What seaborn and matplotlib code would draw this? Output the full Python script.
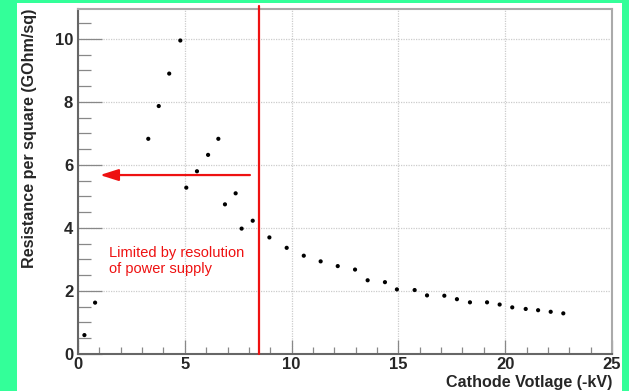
import matplotlib
matplotlib.use("Agg")
import matplotlib.pyplot as plt
from matplotlib.patches import Rectangle
from matplotlib.ticker import MultipleLocator
import seaborn as sns
import pandas as pd

# ---- data ----
voltage = [0.3, 0.8, 3.29, 3.78, 4.27, 4.79, 5.07, 5.57, 6.09, 6.57, 6.88, 7.38,
           7.66, 8.18, 8.96, 9.77, 10.57, 11.36, 12.16, 12.97, 13.56, 14.37,
           14.93, 15.76, 16.34, 17.15, 17.74, 18.35, 19.15, 19.74, 20.33, 20.96,
           21.54, 22.13, 22.72]
resistance = [0.6, 1.63, 6.83, 7.87, 8.9, 9.95, 5.28, 5.8, 6.32, 6.83, 4.75, 5.1,
              3.98, 4.23, 3.7, 3.37, 3.12, 2.94, 2.79, 2.68, 2.34, 2.28,
              2.05, 2.03, 1.86, 1.85, 1.74, 1.64, 1.64, 1.57, 1.48, 1.43,
              1.39, 1.34, 1.29]
x_ticks = [0, 5, 10, 15, 20, 25]
y_ticks = [0, 2, 4, 6, 8, 10]
limit_voltage = 8.47
arrow_start = 8.05
arrow_end = 1.03
arrow_level = 5.68
annotation = "Limited by resolution\nof power supply"
x_title = "Cathode Votlage (-kV)"
y_title = "Resistance per square (GOhm/sq)"

df = pd.DataFrame({"voltage": voltage, "resistance": resistance})

sns.set_style("white")
plt.rcParams["font.family"] = ["Liberation Sans", "DejaVu Sans"]

fig = plt.figure(figsize=(6.29, 3.91), dpi=100)
fig.patch.set_facecolor("#33ff99")
fig.patches.append(Rectangle((17 / 629, 0), (622 - 17) / 629, (391 - 3) / 391,
                             transform=fig.transFigure, facecolor="white",
                             edgecolor="none", zorder=-10))

ax = fig.add_axes([78 / 629, 1 - 354 / 391, (612 - 78) / 629, (354 - 9) / 391])
ax.set_facecolor("white")

sns.scatterplot(data=df, x="voltage", y="resistance", ax=ax, color="black",
                s=9, edgecolor="none", zorder=5, clip_on=False)

ax.set_xlim(0, 25)
ax.set_ylim(0, 10.95)
ax.set_xticks(x_ticks)
ax.set_yticks(y_ticks)
ax.set_xticklabels([str(v) for v in x_ticks], fontweight="bold", fontsize=12)
ax.set_yticklabels([str(v) for v in y_ticks], fontweight="bold", fontsize=12)
ax.xaxis.set_minor_locator(MultipleLocator(1))
ax.yaxis.set_minor_locator(MultipleLocator(0.5))

ax.tick_params(which="both", bottom=True, left=True, top=False, right=False)
ax.tick_params(axis="x", which="major", direction="in", length=10, width=0.9,
               color="#888888", pad=2.5)
ax.tick_params(axis="x", which="minor", direction="in", length=5, width=0.9,
               color="#888888")
ax.tick_params(axis="y", which="major", direction="in", length=17, width=0.9,
               color="#888888", pad=3.5)
ax.tick_params(axis="y", which="minor", direction="in", length=9, width=0.9,
               color="#888888")

ax.grid(True, which="major", linestyle=(0, (1, 1)), color="#cccccc", linewidth=0.9)

for side in ["left", "bottom"]:
    ax.spines[side].set_color("#666666")
    ax.spines[side].set_linewidth(1.5)
for side in ["top", "right"]:
    ax.spines[side].set_color("#aaaaaa")
    ax.spines[side].set_linewidth(1.5)
    ax.spines[side].set_visible(True)

ax.set_xlabel(x_title, fontweight="bold", fontsize=11.6, loc="right", labelpad=2)
ax.set_ylabel(y_title, fontweight="bold", fontsize=11.6, loc="top", labelpad=13)

ax.axvline(limit_voltage, ymin=0, ymax=1.01, color="#ee1111", linewidth=1.6,
           clip_on=False, zorder=4)
ax.annotate("", xy=(arrow_end, arrow_level), xytext=(arrow_start, arrow_level),
            arrowprops=dict(arrowstyle="-|>,head_length=1.1,head_width=0.35",
                            color="#ee1111", linewidth=1.6, shrinkA=0, shrinkB=0),
            zorder=4)
ax.text(1.45, 3.42, annotation, color="#ee1111", fontsize=10.5, va="top",
        ha="left", linespacing=1.15)

fig.savefig("out.png", dpi=100, facecolor=fig.get_facecolor())
